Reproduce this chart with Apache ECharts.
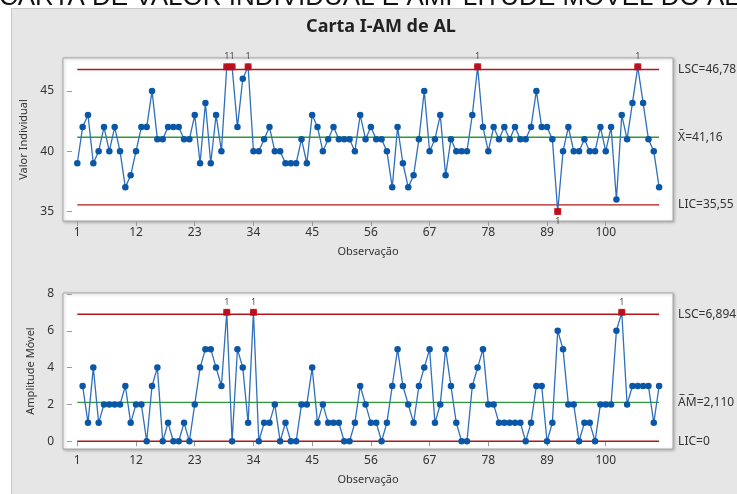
<!DOCTYPE html>
<html>
<head>
<meta charset="utf-8">
<script src="https://cdn.jsdelivr.net/npm/echarts@6/dist/echarts.min.js"></script>
<style>
html,body{margin:0;padding:0;background:#fff;}
#chart{width:737px;height:494px;}
</style>
</head>
<body>
<div id="chart"></div>
<script>
// Individual values (observations 1..110)
const individual = [
  39,42,43,39,40,42,40,42,40,37,
  38,40,42,42,45,41,41,42,42,42,
  41,41,43,39,44,39,43,40,47,47,
  42,46,47,40,40,41,42,40,40,39,
  39,39,41,39,43,42,40,41,42,41,
  41,41,40,43,41,42,41,41,40,37,
  42,39,37,38,41,45,40,41,43,38,
  41,40,40,40,43,47,42,40,42,41,
  42,41,42,41,41,42,45,42,42,41,
  35,40,42,40,40,41,40,40,42,40,
  42,36,43,41,44,47,44,41,40,37
];
// Moving ranges (observations 2..110)
const movingRange = [
  3,1,4,1,2,2,2,2,3,1,
  2,2,0,3,4,0,1,0,0,1,
  0,2,4,5,5,4,3,7,0,5,
  4,1,7,0,1,1,2,0,1,0,
  0,2,2,4,1,2,1,1,1,0,
  0,1,3,2,1,1,0,1,3,5,
  3,2,1,3,4,5,1,2,5,3,
  1,0,0,3,4,5,2,2,1,1,
  1,1,1,0,1,3,3,0,1,6,
  5,2,2,0,1,1,0,2,2,2,
  6,7,2,3,3,3,3,1,3
];
const xTicks = [1,12,23,34,45,56,67,78,89,100];
const iTicks = [35,40,45];
const mrTicks = [0,2,4,6,8];
const iLimits = {ucl:46.78, center:41.16, lcl:35.55};
const mrLimits = {ucl:6.894, center:2.110, lcl:0};
const iLabels = {ucl:'LSC=46,78', center:'X\u0304=41,16', lcl:'LIC=35,55'};
const mrLabels = {ucl:'LSC=6,894', center:'A\u0305M\u0305=2,110', lcl:'LIC=0'};
const iFlagged = [29,30,33,76,91,106];
const iFlaggedBelow = [91];
const mrFlagged = [29,34,103];

const FONT = 'Noto Sans';
const firstObs = 1, lastObs = individual.length;
const iData = individual.map((v,i)=>[i+1, v]);
const mrData = movingRange.map((v,i)=>[i+2, v]);

function limitLine(xi, yi, value, color, text) {
  return {
    type:'line', xAxisIndex:xi, yAxisIndex:yi, silent:true,
    data:[[firstObs, value],[lastObs, value]],
    showSymbol:false, symbol:'none', z:1,
    lineStyle:{color:color, width:1.4},
    endLabel:{show:true, formatter:text, distance:19, color:'#333',
      fontSize:12, fontFamily:FONT},
    animation:false
  };
}
function dataLine(xi, yi, data) {
  return {
    type:'line', xAxisIndex:xi, yAxisIndex:yi, data:data, z:3,
    symbol:'circle', symbolSize:6.5, showSymbol:true,
    lineStyle:{color:'#2f6fbb', width:1.3},
    itemStyle:{color:'#0a57a8'},
    animation:false
  };
}
function flagged(xi, yi, source, first, list, below) {
  return {
    type:'scatter', xAxisIndex:xi, yAxisIndex:yi, z:5,
    symbol:'rect', symbolSize:7,
    itemStyle:{color:'#e00000'},
    data:list.map(o=>({
      value:[o, source[o-first]],
      label:{show:true, formatter:'1', position: below.includes(o)?'bottom':'top',
        distance:2, fontSize:9, color:'#222', fontFamily:FONT}
    })),
    animation:false
  };
}

const xAxisBase = (gi)=>({
  type:'value', gridIndex:gi, min:-1.68, max:112.6,
  axisLine:{show:false}, splitLine:{show:false},
  axisTick:{show:true, customValues:xTicks, length:5, inside:false, lineStyle:{color:'#9a9a9a'}},
  axisLabel:{customValues:xTicks, color:'#333', fontSize:12, fontFamily:FONT, margin:6},
  name:'Observação', nameLocation:'middle', nameGap:25,
  nameTextStyle:{color:'#333', fontSize:11, fontFamily:FONT}
});
const yAxisBase = (gi, min, max, ticks, name, gap)=>({
  type:'value', gridIndex:gi, min:min, max:max,
  axisLine:{show:false}, splitLine:{show:false},
  axisTick:{show:true, customValues:ticks, length:5, inside:false, lineStyle:{color:'#9a9a9a'}},
  axisLabel:{customValues:ticks, color:'#333', fontSize:12, fontFamily:FONT, margin:9},
  name:name, nameLocation:'middle', nameGap:gap, nameRotate:90,
  nameTextStyle:{color:'#333', fontSize:11, fontFamily:FONT}
});

const chart = echarts.init(document.getElementById('chart'), null, {renderer:'canvas'});
chart.setOption({
  backgroundColor:'#ffffff',
  animation:false,
  graphic:[
    {type:'text', x:-1, y:-2, z:-20,
      style:{text:'CARTA DE VALOR INDIVIDUAL E AMPLITUDE MÓVEL DO AL', font:'26px "Liberation Sans"',
        fill:'#111', verticalAlign:'middle'}},
    {type:'rect', left:11, top:8, z:-10, shape:{width:726, height:486},
      style:{fill:'#e6e6e6', stroke:'#c8c8c8', lineWidth:1}},
    {type:'text', x:381, y:27, z:10,
      style:{text:'Carta I-AM de AL', font:'bold 18px "Noto Sans"', fill:'#222',
        align:'center', verticalAlign:'middle'}}
  ],
  grid:[
    {left:63, top:58, width:610, height:163, show:true, backgroundColor:'#fff',
      borderColor:'#a8a8a8', borderWidth:1,
      shadowColor:'rgba(0,0,0,0.25)', shadowBlur:3, shadowOffsetX:1, shadowOffsetY:1},
    {left:63, top:293, width:610, height:156, show:true, backgroundColor:'#fff',
      borderColor:'#a8a8a8', borderWidth:1,
      shadowColor:'rgba(0,0,0,0.25)', shadowBlur:3, shadowOffsetX:1, shadowOffsetY:1}
  ],
  xAxis:[xAxisBase(0), xAxisBase(1)],
  yAxis:[
    yAxisBase(0, 34.21, 47.73, iTicks, 'Valor Individual', 26),
    yAxisBase(1, -0.42, 8.05, mrTicks, 'Amplitude Móvel', 23)
  ],
  series:[
    limitLine(0,0,iLimits.ucl,'#b01818',iLabels.ucl),
    limitLine(0,0,iLimits.center,'#2f9a3a',iLabels.center),
    limitLine(0,0,iLimits.lcl,'#b01818',iLabels.lcl),
    dataLine(0,0,iData),
    flagged(0,0,individual,1,iFlagged,iFlaggedBelow),
    limitLine(1,1,mrLimits.ucl,'#b01818',mrLabels.ucl),
    limitLine(1,1,mrLimits.center,'#2f9a3a',mrLabels.center),
    limitLine(1,1,mrLimits.lcl,'#b01818',mrLabels.lcl),
    dataLine(1,1,mrData),
    flagged(1,1,movingRange,2,mrFlagged,[])
  ]
});
</script>
</body>
</html>
